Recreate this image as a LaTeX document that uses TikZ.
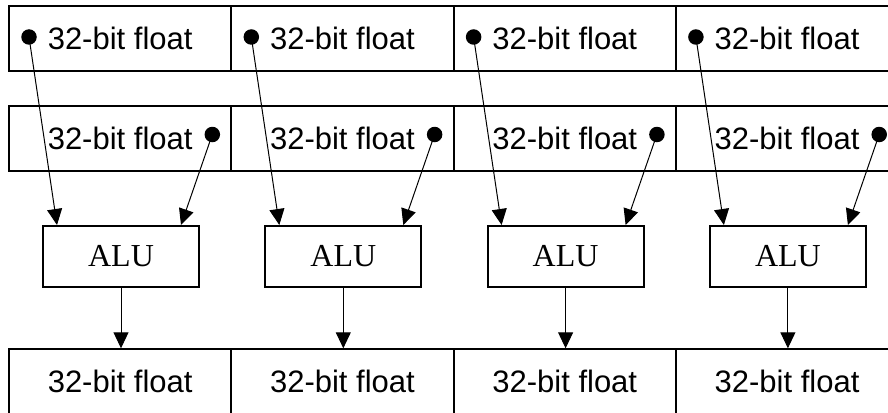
\documentclass[tikz,border=0pt]{standalone}
\usepackage{fontspec}
\setmainfont{Liberation Serif}
\newfontfamily\cellfont{Liberation Sans}
\usetikzlibrary{arrows.meta, positioning}

\begin{document}
\begin{tikzpicture}[x=1pt, y=-1pt,
    cell/.style={draw, line width=2pt, minimum width=222.3pt, minimum height=65pt, inner sep=0pt, font=\cellfont\fontsize{31}{36}\selectfont},
    alu/.style={draw, line width=2pt, minimum width=156pt, minimum height=61pt, inner sep=0pt, font=\fontsize{32}{36}\selectfont},
    dot/.style={circle, fill=black, minimum size=15.5pt, inner sep=0pt},
    feed/.style={line width=1pt, -{Triangle[length=16pt, width=15pt]}}]
  \useasboundingbox (0,0) rectangle (888,412);
  \clip (0,0) rectangle (888,412);
  % first operand row
  \node[cell] (a1) at (120.15, 38.5) {32-bit float};
  \node[cell] (a2) at (342.45, 38.5) {32-bit float};
  \node[cell] (a3) at (564.75, 38.5) {32-bit float};
  \node[cell] (a4) at (787.05, 38.5) {32-bit float};
  % second operand row
  \node[cell] (b1) at (120.15, 138.5) {32-bit float};
  \node[cell] (b2) at (342.45, 138.5) {32-bit float};
  \node[cell] (b3) at (564.75, 138.5) {32-bit float};
  \node[cell] (b4) at (787.05, 138.5) {32-bit float};
  % result row
  \node[cell] (c1) at (120.15, 381.8) {32-bit float};
  \node[cell] (c2) at (342.45, 381.8) {32-bit float};
  \node[cell] (c3) at (564.75, 381.8) {32-bit float};
  \node[cell] (c4) at (787.05, 381.8) {32-bit float};
  % the four ALUs
  \node[alu] (alu1) at (121, 256.5) {ALU};
  \node[alu] (alu2) at (343.3, 256.5) {ALU};
  \node[alu] (alu3) at (565.6, 256.5) {ALU};
  \node[alu] (alu4) at (787.9, 256.5) {ALU};
  % dots
  \node[dot] (da1) at (29, 37) {};
  \node[dot] (da2) at (251.3, 37) {};
  \node[dot] (da3) at (473.6, 37) {};
  \node[dot] (da4) at (695.9, 37) {};
  \node[dot] (db1) at (212.3, 134.5) {};
  \node[dot] (db2) at (434.6, 134.5) {};
  \node[dot] (db3) at (656.9, 134.5) {};
  \node[dot] (db4) at (879.2, 134.5) {};
  % operands into the ALUs
  \draw[feed] (da1.center) -- ([xshift=15pt]alu1.north west);
  \draw[feed] (db1.center) -- ([xshift=-19pt]alu1.north east);
  \draw[feed] (da2.center) -- ([xshift=15pt]alu2.north west);
  \draw[feed] (db2.center) -- ([xshift=-19pt]alu2.north east);
  \draw[feed] (da3.center) -- ([xshift=15pt]alu3.north west);
  \draw[feed] (db3.center) -- ([xshift=-19pt]alu3.north east);
  \draw[feed] (da4.center) -- ([xshift=15pt]alu4.north west);
  \draw[feed] (db4.center) -- ([xshift=-19pt]alu4.north east);
  % results
  \draw[feed] (alu1) -- (alu1 |- c1.north);
  \draw[feed] (alu2) -- (alu2 |- c2.north);
  \draw[feed] (alu3) -- (alu3 |- c3.north);
  \draw[feed] (alu4) -- (alu4 |- c4.north);
\end{tikzpicture}
\end{document}
